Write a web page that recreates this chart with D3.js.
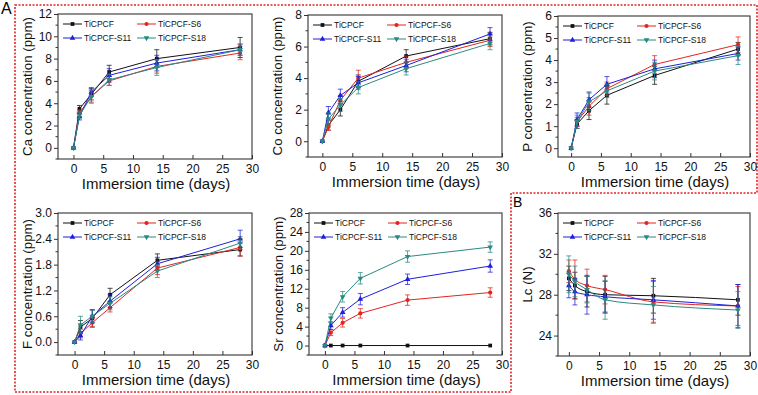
<!DOCTYPE html>
<html>
<head>
<meta charset="utf-8">
<script src="https://cdn.jsdelivr.net/npm/d3@7"></script>
<style>
  body { margin: 0; background: #fff; }
  svg { font-family: "Liberation Sans", Arial, sans-serif; }
</style>
</head>
<body>
<div id="chart"></div>
<script>
// chart size
const width = 758, height = 395;

// shared data
const days = [0, 1, 3, 6, 14, 28];
const seriesNames = ["TiCPCF", "TiCPCF-S6", "TiCPCF-S11", "TiCPCF-S18"];
const seriesColors = ["#111111", "#e3241f", "#1f1fd8", "#2a8a82"];
const seriesSymbols = [d3.symbolSquare, d3.symbolCircle, d3.symbolTriangle, d3.symbolTriangle];

// Ca
const caValues = [
  [0, 3.5, 4.8, 6.8, 8.0, 9.0],
  [0, 3.1, 4.6, 6.0, 7.3, 8.5],
  [0, 2.8, 5.0, 6.5, 7.6, 8.8],
  [0, 2.9, 4.6, 6.1, 7.2, 8.8]
];
const caErrors = [
  [0, 0.3, 0.5, 0.6, 0.8, 0.9],
  [0, 0.3, 0.5, 0.4, 0.6, 0.6],
  [0, 0.3, 0.4, 0.6, 0.7, 0.5],
  [0, 0.3, 0.6, 0.5, 0.7, 0.5]
];
const caTicks = [0, 2, 4, 6, 8, 10, 12];

// Co
const coValues = [
  [0, 1.0, 2.0, 3.8, 5.4, 6.5],
  [0, 0.9, 2.6, 4.0, 5.0, 6.4],
  [0, 1.8, 2.9, 3.7, 4.8, 6.8],
  [0, 1.4, 2.3, 3.4, 4.6, 6.2]
];
const coErrors = [
  [0, 0.3, 0.4, 0.4, 0.4, 0.4],
  [0, 0.2, 0.3, 0.5, 0.4, 0.4],
  [0, 0.4, 0.4, 0.4, 0.4, 0.4],
  [0, 0.4, 0.4, 0.4, 0.4, 0.4]
];
const coTicks = [0, 2, 4, 6, 8];

// P
const pValues = [
  [0, 1.1, 1.7, 2.4, 3.3, 4.5],
  [0, 1.2, 1.9, 2.7, 3.8, 4.7],
  [0, 1.3, 2.2, 2.9, 3.6, 4.3],
  [0, 1.2, 2.1, 2.6, 3.5, 4.2]
];
const pErrors = [
  [0, 0.2, 0.4, 0.4, 0.4, 0.3],
  [0, 0.2, 0.4, 0.3, 0.4, 0.35],
  [0, 0.3, 0.35, 0.35, 0.4, 0.3],
  [0, 0.3, 0.4, 0.3, 0.4, 0.4]
];
const pTicks = [0, 1, 2, 3, 4, 5, 6];

// F
const fValues = [
  [0, 0.35, 0.55, 1.1, 1.9, 2.15],
  [0, 0.2, 0.45, 0.8, 1.72, 2.2],
  [0, 0.15, 0.6, 0.95, 1.82, 2.4],
  [0, 0.4, 0.6, 0.9, 1.65, 2.3]
];
const fErrors = [
  [0, 0.15, 0.2, 0.15, 0.15, 0.15],
  [0, 0.1, 0.1, 0.1, 0.15, 0.2],
  [0, 0.1, 0.15, 0.15, 0.15, 0.2],
  [0, 0.2, 0.15, 0.15, 0.15, 0.15]
];
const fTicks = [0, 0.6, 1.2, 1.8, 2.4, 3.0];

// Sr
const srValues = [
  [0, 0, 0, 0, 0, 0],
  [0, 2.7, 4.8, 6.8, 9.6, 11.2],
  [0, 4.2, 7.0, 9.8, 14.0, 16.8],
  [0, 5.8, 10.3, 14.2, 18.8, 20.8]
];
const srErrors = [
  [0, 0, 0, 0, 0, 0],
  [0, 0.6, 0.9, 1.0, 1.1, 1.0],
  [0, 0.8, 1.0, 1.2, 1.1, 1.3],
  [0, 0.9, 1.1, 1.2, 1.2, 1.1]
];
const srTicks = [0, 4, 8, 12, 16, 20, 24, 28];

// Lc
const lcValues = [
  [29.6, 28.9, 28.3, 28.0, 27.9, 27.5],
  [30.3, 29.5, 28.9, 28.5, 27.3, 26.9],
  [28.9, 28.3, 28.0, 27.8, 27.5, 26.9],
  [30.0, 29.3, 28.5, 27.5, 27.0, 26.5]
];
const lcErrors = [
  [1.2, 1.3, 1.5, 1.8, 1.7, 1.5],
  [1.1, 1.9, 1.6, 1.4, 2.0, 1.9],
  [1.2, 1.3, 1.9, 1.5, 1.9, 2.1],
  [1.8, 1.5, 1.3, 1.9, 1.8, 1.8]
];
const lcTicks = [24, 28, 32, 36];

const xTicks = [0, 5, 10, 15, 20, 25, 30];

// panel layout
const panels = [
  { box: [58, 14, 252, 159], xMin: -2.6, yDomain: [-1, 12], ticks: caTicks, values: caValues, errors: caErrors, title: "Ca concentration (ppm)", fmt: d3.format("d") },
  { box: [308, 15, 502, 157], xMin: -2.4, yDomain: [-1, 8], ticks: coTicks, values: coValues, errors: coErrors, title: "Co concentration (ppm)", fmt: d3.format("d") },
  { box: [558, 16, 750, 157], xMin: -2.2, yDomain: [-0.4, 6], ticks: pTicks, values: pValues, errors: pErrors, title: "P concentration (ppm)", fmt: d3.format("d") },
  { box: [58, 213, 252, 355], xMin: -2.8, yDomain: [-0.3, 3], ticks: fTicks, values: fValues, errors: fErrors, title: "F concentration (ppm)", fmt: d3.format(".1f") },
  { box: [309, 213, 502, 355], xMin: -2.7, yDomain: [-2, 28], ticks: srTicks, values: srValues, errors: srErrors, title: "Sr concentration (ppm)", fmt: d3.format("d") },
  { box: [558, 213, 750, 356], xMin: -1.8, yDomain: [22, 36], ticks: lcTicks, values: lcValues, errors: lcErrors, title: "Lc (N)", fmt: d3.format("d"), curve: d3.curveMonotoneX }
];

const svg = d3.select("#chart")
  .append("svg")
  .attr("width", width)
  .attr("height", height)

// red dotted outlines
const borderA = d3.path()
borderA.moveTo(15, 5); borderA.lineTo(757, 5); borderA.lineTo(757, 193);
borderA.lineTo(511, 193); borderA.lineTo(511, 392); borderA.lineTo(15, 392); borderA.closePath();
svg.append("path")
  .attr("d", borderA.toString())
  .attr("fill", "none")
  .attr("stroke", "#e0262a")
  .attr("stroke-width", 1.6)
  .attr("stroke-dasharray", "2,1.5")

svg.append("text").attr("x", 1).attr("y", 14).attr("font-size", 16).text("A")
svg.append("text").attr("x", 513).attr("y", 207).attr("font-size", 14).text("B")

panels.forEach(p => {
  const [x0, y0, x1, y1] = p.box;
  const xScale = d3.scaleLinear().domain([p.xMin, 30]).range([x0, x1])
  const yScale = d3.scaleLinear().domain(p.yDomain).range([y1, y0])
  const g = svg.append("g")

  // y axis (ticks outward)
  const step = p.ticks[1] - p.ticks[0];
  const minor = d3.range(p.ticks[0] - step / 2, p.yDomain[1], step).filter(v => v >= p.yDomain[0]);
  const yAxis = d3.axisLeft(yScale).tickValues(p.ticks).tickFormat(p.fmt).tickSize(4).tickPadding(2)
  const yG = g.append("g").attr("transform", `translate(${x0},0)`).call(yAxis)
  yG.select(".domain").remove()
  yG.selectAll("line").attr("stroke", "#333")
  yG.selectAll("text").attr("font-size", 12).attr("fill", "#111").attr("font-family", "Liberation Sans, Arial")
  g.selectAll(".minorY")
    .data(minor)
    .join("line")
    .attr("x1", x0 - 2.5).attr("x2", x0)
    .attr("y1", d => yScale(d)).attr("y2", d => yScale(d))
    .attr("stroke", "#333")

  // x axis (ticks inward)
  const xAxis = d3.axisBottom(xScale).tickValues(xTicks).tickSizeInner(-4).tickSizeOuter(0).tickPadding(5)
  const xG = g.append("g").attr("transform", `translate(0,${y1})`).call(xAxis)
  xG.select(".domain").remove()
  xG.selectAll("line").attr("stroke", "#333")
  xG.selectAll("text").attr("font-size", 12).attr("fill", "#111").attr("font-family", "Liberation Sans, Arial")

  // frame
  g.append("rect")
    .attr("x", x0).attr("y", y0)
    .attr("width", x1 - x0).attr("height", y1 - y0)
    .attr("fill", "none")
    .attr("stroke", "#333")
    .attr("stroke-width", 1.1)

  // axis titles
  g.append("text")
    .attr("x", (x0 + x1) / 2 + 1)
    .attr("y", y1 + 29.5)
    .attr("text-anchor", "middle")
    .attr("font-size", 15)
    .attr("fill", "#111")
    .text("Immersion time (days)")
  g.append("text")
    .attr("transform", `translate(${x0 - 26},${(y0 + y1) / 2})rotate(-90)`)
    .attr("text-anchor", "middle")
    .attr("font-size", 13.3)
    .attr("fill", "#111")
    .text(p.title)

  // series
  const line = d3.line()
    .x(d => xScale(d.x))
    .y(d => yScale(d.y))
    .curve(p.curve || d3.curveLinear)

  seriesNames.forEach((name, i) => {
    const pts = days.map((d, j) => ({ x: d, y: p.values[i][j], e: p.errors[i][j] }))
    const color = seriesColors[i]
    const s = g.append("g")

    s.append("path")
      .attr("d", line(pts))
      .attr("fill", "none")
      .attr("stroke", color)
      .attr("stroke-width", 1)

    const eb = s.selectAll(".err")
      .data(pts.filter(d => d.e > 0))
      .join("g")
      .attr("stroke", color)
      .attr("stroke-opacity", 0.75)
      .attr("stroke-width", 1)
    eb.append("line")
      .attr("x1", d => xScale(d.x)).attr("x2", d => xScale(d.x))
      .attr("y1", d => yScale(d.y - d.e)).attr("y2", d => yScale(d.y + d.e))
    eb.append("line")
      .attr("x1", d => xScale(d.x) - 2.5).attr("x2", d => xScale(d.x) + 2.5)
      .attr("y1", d => yScale(d.y + d.e)).attr("y2", d => yScale(d.y + d.e))
    eb.append("line")
      .attr("x1", d => xScale(d.x) - 2.5).attr("x2", d => xScale(d.x) + 2.5)
      .attr("y1", d => yScale(d.y - d.e)).attr("y2", d => yScale(d.y - d.e))

    s.selectAll(".pt")
      .data(pts)
      .join("path")
      .attr("d", d3.symbol().type(seriesSymbols[i]).size(14))
      .attr("transform", d => `translate(${xScale(d.x)},${yScale(d.y)})${i === 3 ? "rotate(180)" : ""}`)
      .attr("fill", color)
  })

  // legend
  const legend = g.append("g").attr("transform", `translate(${x0 + 5},${y0 + 10})`)
  seriesNames.forEach((name, i) => {
    const lx = (i % 2) * 74, ly = Math.floor(i / 2) * 14
    const item = legend.append("g").attr("transform", `translate(${lx},${ly})`)
    item.append("line").attr("x1", 0).attr("x2", 19).attr("y1", 0).attr("y2", 0)
      .attr("stroke", seriesColors[i]).attr("stroke-width", 1)
    item.append("path")
      .attr("d", d3.symbol().type(seriesSymbols[i]).size(14))
      .attr("transform", `translate(9.5,0)${i === 3 ? "rotate(180)" : ""}`)
      .attr("fill", seriesColors[i])
    item.append("text")
      .attr("x", 21).attr("y", 3)
      .attr("font-size", 8.5)
      .attr("fill", "#111")
      .text(name)
  })
})
</script>
</body>
</html>
